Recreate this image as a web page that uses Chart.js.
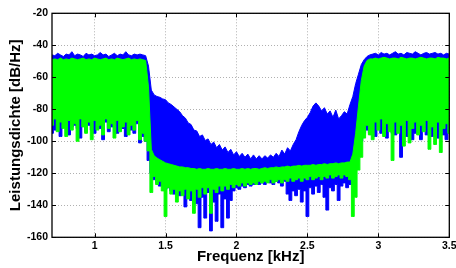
<!DOCTYPE html>
<html><head><meta charset="utf-8">
<script src="https://cdn.jsdelivr.net/npm/chart.js@4/dist/chart.umd.min.js"></script>
<style>html,body{margin:0;padding:0;background:#fff;overflow:hidden}canvas{display:block}</style>
</head><body>
<canvas id="c" width="456" height="268"></canvas>
<script>
// Frequency grid (kHz)
const freqKHz = [0.70,0.72,0.74,0.76,0.78,0.80,0.82,0.84,0.86,0.88,0.90,0.92,0.94,0.96,0.98,
1.00,1.02,1.04,1.06,1.08,1.10,1.12,1.14,1.16,1.18,1.20,1.22,1.24,1.26,1.28,1.30,1.32,1.34,1.36,1.38,1.40,
1.42,1.44,1.46,1.48,1.50,1.52,1.54,1.56,1.58,1.60,1.62,1.64,1.66,1.68,1.70,1.72,1.74,1.76,1.78,1.80,
1.82,1.84,1.86,1.88,1.90,1.92,1.94,1.96,1.98,2.00,2.02,2.04,2.06,2.08,2.10,2.12,2.14,2.16,2.18,2.20,
2.22,2.24,2.26,2.28,2.30,2.32,2.34,2.36,2.38,2.40,2.42,2.44,2.46,2.48,2.50,2.52,2.54,2.56,2.58,2.60,
2.62,2.64,2.66,2.68,2.70,2.72,2.74,2.76,2.78,2.80,2.82,2.84,2.86,2.88,2.90,2.92,2.94,
2.96,2.98,3.00,3.02,3.04,3.06,3.08,3.10,3.12,3.14,3.16,3.18,3.20,3.22,3.24,3.26,3.28,3.30,3.32,3.34,
3.36,3.38,3.40,3.42,3.44,3.46,3.48,3.50];

// Blue spectrum: upper and lower envelope (dB/Hz)
const blueUpper = [-46,-46.5,-45,-46,-47,-45.5,-46,-44,-46.5,-45.5,-46,-47,-45,-46,-45.5,-46.5,-46,-44.5,-46,-45.5,-47,-46,-45,-46.5,-45.5,-46,-44,-46,-46.5,-45.5,-46,-45.5,-46,
-46.5,-53,-68,
-71,-72,-72.5,-73.5,-74,-76,-77,-78.5,-80,-81.5,-84,-85.5,-88.5,-89.5,-93,-93.5,-97,-96,-99.5,-98.5,
-102,-100.5,-104,-102,-105.5,-103.5,-107,-105,-108.5,-106.5,-109.5,-107.5,-110,-108,-111,-108.5,-111,-109,-111,-109,
-110.5,-108.5,-110,-107.5,-109.5,-105.5,-108,-104,-106,-102,-99,-94,-90,-87,-85,-82,-78,-76,-78,-81,
-79,-83,-81,-85,-80.5,-86,-84,-81.5,-83,-77,-72,-64,-58,-52,-49,-47,-46,
-45.5,-45,-46,-44.5,-45.5,-45,-46,-45,-44,-45.5,-45,-46,-44.5,-45,-45.5,-44,-45,-46,-45,-44.5,-45.5,-45,-44.5,-45.5,-45,-46,-45,-45.5];
const blueLower = [-95,-93,-88,-97,-90,-89,-96,-91,-90,-92,-98,-88,-94,-90,-93,-95,-89,-92,-99,-88,-94,-91,-90,-95,-89,-92,-97,-90,-93,-95,-89,-101,-97,
-100,-112,-120,
-124,-126,-128,-127,-130,-129,-131,-133,-130,-134,-131,-141,-133,-137,-132,-139,-154,-135,-148,-132,
-156,-138,-150,-133,-154,-136,-148,-137,-131,-129,-130,-128,-129,-127,-128,-127,-126,-127,-126,-127,
-125,-126,-127,-125,-126,-128,-125,-133,-137,-131,-134,-130,-138,-131,-147,-129,-133,-128,-132,-127,
-135,-143,-129,-131,-127,-137,-128,-126,-129,-127,-120,-112,-105,-100,-95,-93,-95,
-94,-97,-91,-95,-90,-98,-92,-95,-96,-91,-110,-92,-97,-93,-99,-95,-91,-99,-92,-96,-93,-97,-92,-98,-94,-96,-99,-93];

// Green spectrum: upper and lower envelope (dB/Hz)
const greenUpper = [-49,-48.5,-49,-48,-49,-48.5,-49,-48,-48.5,-49,-48.5,-48,-49,-48.5,-49,-48,-48.5,-49,-48.5,-48,-49,-48.5,-49,-48,-48.5,-49,-48.5,-48,-49,-48.5,-49,-48.5,-49,
-49.5,-66,-105,
-109,-110.5,-111.5,-112.5,-113.5,-114,-114.5,-115,-115.5,-116,-116,-116.5,-116.5,-117,-117,-117.5,-117,-117.5,-117.5,-117,
-117.5,-117.5,-117,-117.5,-117.5,-117,-117.5,-117.5,-117,-117.5,-117.5,-117,-117.5,-117,-117.5,-117,-117,-117.5,-117,-116.5,
-117,-116.5,-116.5,-116,-116.5,-116,-116,-115.5,-116,-115.5,-115.5,-115,-115.5,-115,-115,-115,-114.5,-115,-114.5,-114.5,
-114,-114.5,-114,-114,-113.5,-114,-113.5,-113.5,-113,-113,-108,-95,-78,-62,-53,-49.5,-48.5,
-48.5,-48,-48.5,-48,-47.5,-48,-48.5,-48,-48,-48.5,-47.5,-48,-48.5,-48,-48,-48.5,-48,-47.5,-48,-48.5,-48,-48,-48.5,-47.5,-48,-48,-48.5,-48];
const greenLower = [-90,-86,-94,-88,-92,-97,-87,-93,-89,-100,-86,-91,-95,-88,-99,-87,-93,-90,-96,-86,-92,-89,-98,-87,-94,-91,-88,-96,-90,-93,-87,-99,-95,
-100,-106,-132,
-122,-127,-125,-131,-147,-129,-133,-130,-138,-131,-134,-130,-136,-131,-145,-130,-135,-129,-133,-129,
-145,-130,-132,-128,-131,-128,-130,-127,-129,-127,-128,-126,-128,-126,-127,-126,-127,-125,-126,-125,
-126,-124,-126,-125,-124,-126,-124,-125,-123,-125,-124,-123,-125,-123,-124,-122,-124,-123,-122,-124,
-122,-123,-121,-123,-122,-121,-123,-121,-122,-124,-147,-135,-118,-110,-98,-90,-96,
-99,-88,-93,-86,-97,-89,-94,-112,-88,-95,-90,-103,-87,-101,-92,-88,-96,-90,-94,-87,-105,-91,-102,-88,-107,-92,-89,-95];

// Axis ticks
const xTicks = [1, 1.5, 2, 2.5, 3, 3.5];
const yTicks = [-160, -140, -120, -100, -80, -60, -40, -20];

const FONT = "'Liberation Sans', Arial, Helvetica, sans-serif";
const pts = arr => freqKHz.map((f, i) => ({x: f, y: arr[i]}));

const frame = {
  id: 'frame',
  afterDatasetsDraw(chart) {
    const {ctx, chartArea: a, scales: {x, y}} = chart;
    ctx.save();
    ctx.strokeStyle = '#000';
    ctx.lineWidth = 1;
    ctx.beginPath();
    xTicks.forEach(v => {
      const px = Math.round(x.getPixelForValue(v)) + 0.5;
      ctx.moveTo(px, a.bottom); ctx.lineTo(px, a.bottom - 4);
      ctx.moveTo(px, a.top); ctx.lineTo(px, a.top + 4);
    });
    yTicks.forEach(v => {
      const py = Math.round(y.getPixelForValue(v)) + 0.5;
      ctx.moveTo(a.left, py); ctx.lineTo(a.left + 4, py);
      ctx.moveTo(a.right, py); ctx.lineTo(a.right - 4, py);
    });
    ctx.stroke();
    ctx.lineWidth = 1.3;
    ctx.strokeRect(a.left, a.top, a.right - a.left, a.bottom - a.top);
    ctx.restore();
  }
};

const line = (data, color, fill, order, stepped) => ({
  data, borderColor: color, backgroundColor: color, borderWidth: 1,
  pointRadius: 0, tension: 0, fill, order, stepped
});

new Chart(document.getElementById('c'), {
  type: 'line',
  data: {
    datasets: [
      line(pts(blueUpper), '#0000ff', false, 2, false),
      line(pts(blueLower), '#0000ff', '-1', 2, 'middle'),
      line(pts(greenUpper), '#00ff00', false, 1, false),
      line(pts(greenLower), '#00ff00', '-1', 1, 'middle')
    ]
  },
  options: {
    responsive: false,
    animation: false,
    devicePixelRatio: 1,
    layout: {padding: {left: 0, right: 6.7, top: 13.3, bottom: 0}},
    plugins: {legend: {display: false}, tooltip: {enabled: false}},
    scales: {
      x: {
        type: 'linear', min: 0.7, max: 3.5,
        afterBuildTicks: s => { s.ticks = xTicks.map(v => ({value: v})); },
        afterFit: s => { s.height = 30.7; s.paddingLeft = 0; s.paddingRight = 0; },
        ticks: {color: '#000', font: {family: FONT, size: 10.5, weight: 'bold'}, padding: 3,
                maxRotation: 0, autoSkip: false, callback: v => String(v)},
        grid: {color: '#b0b0b0', lineWidth: 1, drawTicks: false},
        border: {display: false, dash: [1, 2]},
        title: {display: true, text: 'Frequenz [kHz]', color: '#000',
                font: {family: FONT, size: 15, weight: 'bold'}, padding: {top: 0, bottom: 2}}
      },
      y: {
        type: 'linear', min: -160, max: -20,
        afterBuildTicks: s => { s.ticks = yTicks.map(v => ({value: v})); },
        afterFit: s => { s.width = 52; },
        ticks: {color: '#000', font: {family: FONT, size: 10.5, weight: 'bold'}, padding: 4,
                autoSkip: false, callback: v => String(v)},
        grid: {color: '#b0b0b0', lineWidth: 1, drawTicks: false},
        border: {display: false, dash: [1, 2]},
        title: {display: true, text: 'Leistungsdichte [dB/Hz]', color: '#000',
                font: {family: FONT, size: 15, weight: 'bold'}, padding: {top: 6.5, bottom: 0}}
      }
    }
  },
  plugins: [frame]
});
</script>
</body></html>
